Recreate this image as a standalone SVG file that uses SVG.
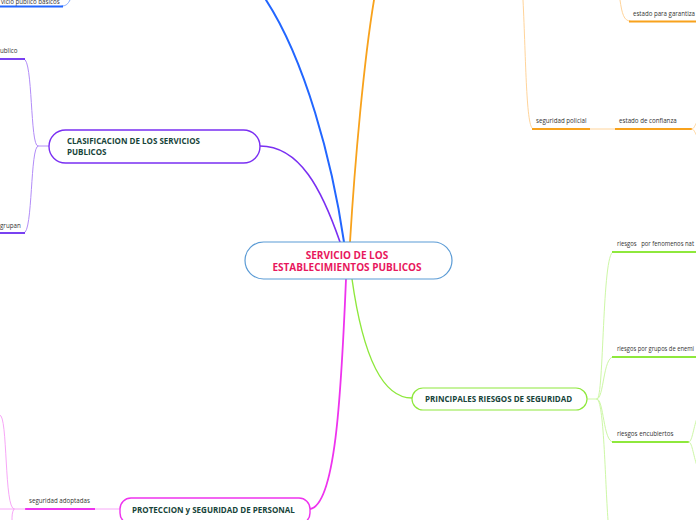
<svg xmlns="http://www.w3.org/2000/svg" width="696" height="520" viewBox="0 0 696 520">
<style>
.c{fill:none;stroke-linecap:round}
.lbl{font-family:"Open Sans","Noto Sans",sans-serif;font-size:6.2px;fill:#333}
.nt{font-family:"Open Sans","Noto Sans",sans-serif;font-size:8px;font-weight:bold;fill:#17443a}
.ct{font-family:"Open Sans","Noto Sans",sans-serif;font-size:10px;font-weight:bold;fill:#e8175d}
</style>
<rect width="696" height="520" fill="#fff"/>
<g id="connectors">
  <path class="c" d="M344,242 C332,160 305,60 266,0" stroke="#2266ff" stroke-width="2"/>
  <path class="c" d="M350,242 C355,160 364,60 374,0" stroke="#f8a21c" stroke-width="1.8"/>
  <path class="c" d="M340,242 C322,190 300,146 260,146" stroke="#7a2ff2" stroke-width="1.6"/>
  <path class="c" d="M346,279 C341,400 335,505 310,509" stroke="#ee33ee" stroke-width="1.8"/>
  <path class="c" d="M352,279 C362,350 380,398 412,398" stroke="#8ee83c" stroke-width="1.4"/>
  <path class="c" d="M70,0 C68,4 66,6 62,6" stroke="#7fa7ff" stroke-width="1"/>
  <line x1="0" y1="6.5" x2="63" y2="6.5" stroke="#2266ff" stroke-width="1.8"/>
  <path class="c" d="M49,146 L38,146 C30,146 33,59 24,59" stroke="#b28cf8" stroke-width="1"/>
  <path class="c" d="M38,146 C30,146 33,233 24,233" stroke="#b28cf8" stroke-width="1"/>
  <line x1="0" y1="59" x2="25" y2="59" stroke="#6a2cf0" stroke-width="1.8"/>
  <line x1="0" y1="233" x2="25" y2="233" stroke="#6a2cf0" stroke-width="1.8"/>
  <path class="c" d="M523,0 C526,60 526,129 533,129" stroke="#ffd49a" stroke-width="1"/>
  <line x1="532" y1="129" x2="590" y2="129" stroke="#f8a21c" stroke-width="1.8"/>
  <line x1="590" y1="129" x2="615" y2="129" stroke="#ffd49a" stroke-width="1"/>
  <line x1="615" y1="129" x2="692" y2="129" stroke="#f8a21c" stroke-width="1.8"/>
  <path class="c" d="M692,129 C694,129 695,125 697,122 M692,129 C694,129 695,133 697,136" stroke="#ffd49a" stroke-width="1"/>
  <path class="c" d="M620,0 C622,14 624,21 630,21" stroke="#ffd49a" stroke-width="1"/>
  <line x1="629" y1="21.5" x2="696" y2="21.5" stroke="#f8a21c" stroke-width="1.8"/>
  <path class="c" d="M587,399 L597,399 C604,399 602,252 613,252" stroke="#cdf7a6" stroke-width="1"/>
  <path class="c" d="M597,399 C604,399 603,357 613,357" stroke="#cdf7a6" stroke-width="1"/>
  <path class="c" d="M597,399 C604,399 603,442 613,442" stroke="#cdf7a6" stroke-width="1"/>
  <path class="c" d="M597,399 C604,399 605,480 608,520" stroke="#cdf7a6" stroke-width="1"/>
  <line x1="612" y1="252" x2="696" y2="252" stroke="#8ee83c" stroke-width="1.8"/>
  <line x1="612" y1="357" x2="696" y2="357" stroke="#8ee83c" stroke-width="1.8"/>
  <line x1="612" y1="442" x2="689" y2="442" stroke="#8ee83c" stroke-width="1.8"/>
  <path class="c" d="M689,442 C692,442 693,430 697,418 M689,442 C692,442 693,454 697,466" stroke="#cdf7a6" stroke-width="1"/>
  <line x1="95" y1="509" x2="120" y2="509" stroke="#f7a6f7" stroke-width="1"/>
  <line x1="25" y1="509" x2="95" y2="509" stroke="#ee33ee" stroke-width="1.8"/>
  <path class="c" d="M25,509 L0,509 M0,415 C8,415 4,509 14,509 M14,509 C12,512 12,516 12,520" stroke="#f7a6f7" stroke-width="1"/>
</g>
<g id="node-center">
  <rect x="245" y="242" width="207" height="37" rx="18.5" fill="#fff" stroke="#5b9bd5" stroke-width="1.2"/>
  <text class="ct" x="347" y="258.5" text-anchor="middle">SERVICIO DE LOS</text>
  <text class="ct" x="347" y="271" text-anchor="middle">ESTABLECIMIENTOS PUBLICOS</text>
</g>
<g id="node-clasificacion">
  <rect x="49" y="130" width="211" height="33" rx="16.5" fill="#fff" stroke="#7a2ff2" stroke-width="1.4"/>
  <text class="nt" x="67" y="144">CLASIFICACION DE LOS SERVICIOS</text>
  <text class="nt" x="67" y="155">PUBLICOS</text>
</g>
<g id="node-principales">
  <rect x="412" y="388" width="175" height="22" rx="11" fill="#fff" stroke="#8ee83c" stroke-width="1.2"/>
  <text class="nt" x="425" y="402">PRINCIPALES RIESGOS DE SEGURIDAD</text>
</g>
<g id="node-proteccion">
  <rect x="120" y="498" width="190" height="26" rx="11" fill="#fff" stroke="#ee33ee" stroke-width="1.4"/>
  <text class="nt" x="132" y="513">PROTECCION y SEGURIDAD DE PERSONAL</text>
</g>
<g id="node-basicos"><text class="lbl" x="1" y="4">vicio publico basicos</text></g>
<g id="node-publico"><text class="lbl" x="0" y="53">ublico</text></g>
<g id="node-grupan"><text class="lbl" x="0" y="228">grupan</text></g>
<g id="node-seguridad-policial"><text class="lbl" x="536" y="123">seguridad policial</text></g>
<g id="node-estado-confianza"><text class="lbl" x="619" y="123">estado de confianza</text></g>
<g id="node-estado-garantizar"><text class="lbl" x="633" y="16" textLength="62" lengthAdjust="spacingAndGlyphs">estado para garantiza</text></g>
<g id="node-fenomenos"><text class="lbl" x="617" y="246" xml:space="preserve" textLength="77" lengthAdjust="spacingAndGlyphs">riesgos   por fenomenos nat</text></g>
<g id="node-enemigos"><text class="lbl" x="617" y="351" textLength="77" lengthAdjust="spacingAndGlyphs">riesgos por grupos de enemi</text></g>
<g id="node-encubiertos"><text class="lbl" x="617" y="436">riesgos encubiertos</text></g>
<g id="node-adoptadas"><text class="lbl" x="29" y="503">seguridad adoptadas</text></g>
</svg>
